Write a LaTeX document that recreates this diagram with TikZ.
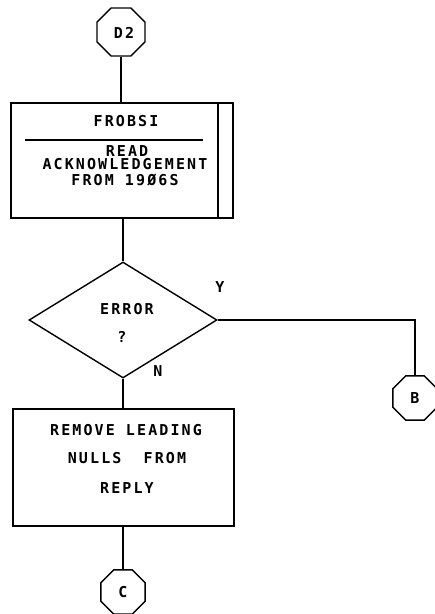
\documentclass[tikz,border=0pt]{standalone}
\usepackage{fontspec}
\usetikzlibrary{shapes.geometric}
\newfontfamily\plotfont[LetterSpace=14]{DejaVu Sans Mono}
\begin{document}
\begin{tikzpicture}[x=1pt,y=-1pt,
  line width=1.4pt,
  conn/.style={draw,line width=1.4pt},
  octo/.style={draw,regular polygon,regular polygon sides=8,minimum size=#1,inner sep=0pt},
  procbox/.style={draw,rectangle,inner sep=0pt},
  decision/.style={draw,diamond,inner sep=0pt,minimum width=188pt,minimum height=116pt},
  txt/.style={inner sep=0pt,font=\plotfont\bfseries\fontsize{15}{17}\selectfont}
]
\useasboundingbox (0,0) rectangle (435,614);
% terminals
\node[octo=52pt] (d2) at (121,32) {};
\node[txt] (d2t) at (124,33) {D2};
\node[procbox,minimum width=222pt,minimum height=115pt] (box1) at (122,160.5) {};
\coordinate (sepl) at (25,140);
\coordinate (sepr) at (203,140);
\coordinate (vtop) at (218,103);
\coordinate (vbot) at (218,218);
\draw (sepl) -- (sepr);
\draw (vtop) -- (vbot);
\node[txt] (t1) at (126,121) {FROBSI};
\node[txt] (t2) at (127,151) {READ};
\node[txt] (t3) at (125,164.5) {ACKNOWLEDGEMENT};
\node[txt] (t4) at (125,180) {FROM 19Ø6S};
\node[decision] (dec) at (123,320) {};
\node[txt] (e1) at (127,309) {ERROR};
\node[txt] (e2) at (122,337) {?};
\node[txt] (ly) at (220,287) {Y};
\node[txt] (ln) at (158,371) {N};
\node[octo=48pt] (b) at (415,398) {};
\node[txt] (bt) at (415,398) {B};
\node[procbox,minimum width=221pt,minimum height=117pt] (box2) at (123.5,467.5) {};
\node[txt] (r1) at (126,430) {REMOVE LEADING};
\node[txt] (r2) at (127,458) {NULLS\ \ FROM};
\node[txt] (r3) at (127,488) {REPLY};
\node[octo=48pt] (c) at (123,592) {};
\node[txt] (ct) at (123,592) {C};
% lines
\draw[conn] (d2.south) -- (d2.south |- box1.north);
\draw[conn] (dec.north |- box1.south) -- (dec.north);
\draw[conn] (dec.east) -- (b.north |- dec.east) -- (b.north);
\draw[conn] (dec.south) -- (dec.south |- box2.north);
\draw[conn] (c.north |- box2.south) -- (c.north);
\end{tikzpicture}
\end{document}
